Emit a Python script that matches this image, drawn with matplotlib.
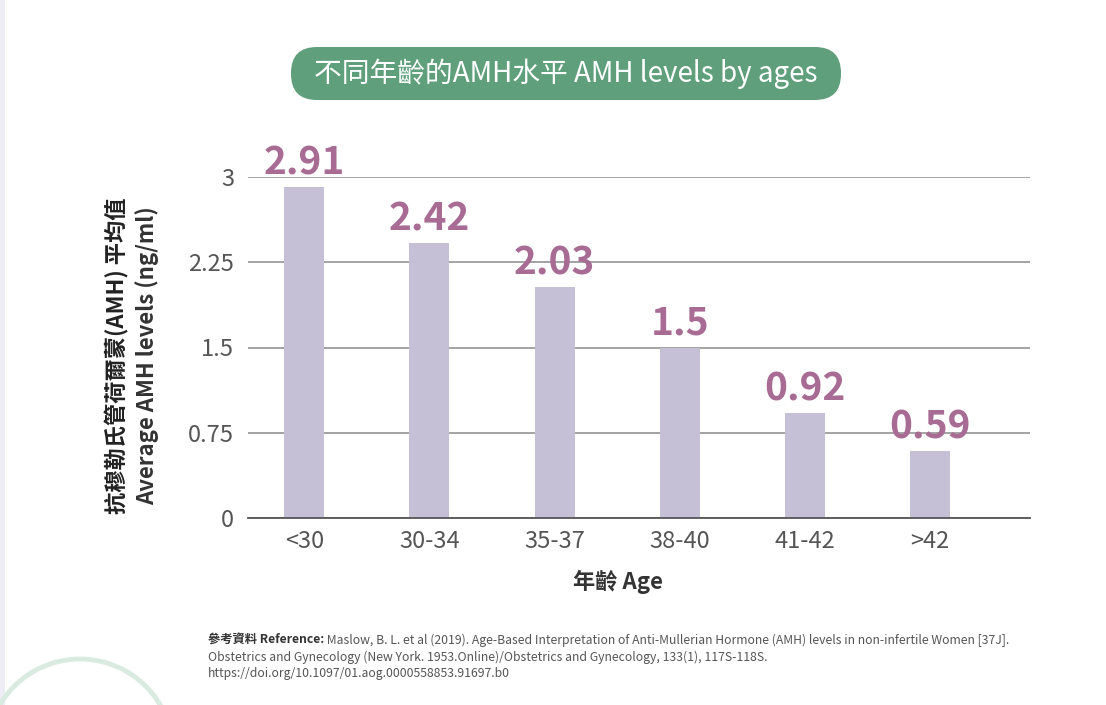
import matplotlib
matplotlib.use('Agg')
import matplotlib.pyplot as plt
from matplotlib.patches import FancyBboxPatch, Circle

plt.rcParams['font.family'] = ['Noto Sans CJK TC', 'DejaVu Sans']

# data
age_groups = ['<30', '30-34', '35-37', '38-40', '41-42', '>42']
amh_means = [2.91, 2.42, 2.03, 1.5, 0.92, 0.59]
y_ticks = [0, 0.75, 1.5, 2.25, 3]
y_tick_labels = ['0', '0.75', '1.5', '2.25', '3']

title = '不同年齡的AMH水平 AMH levels by ages'
ylabel_zh = '抗穆勒氏管荷爾蒙(AMH) 平均值'
ylabel_en = 'Average AMH levels (ng/ml)'
xlabel = '年齡 Age'
ref_bold = '參考資料 Reference:'
ref_lines = [
    ' Maslow, B. L. et al (2019). Age-Based Interpretation of Anti-Mullerian Hormone (AMH) levels in non-infertile Women [37J].',
    'Obstetrics and Gynecology (New York. 1953.Online)/Obstetrics and Gynecology, 133(1), 117S-118S.',
    'https://doi.org/10.1097/01.aog.0000558853.91697.b0',
]

W, H = 1106, 705
fig = plt.figure(figsize=(W / 100, H / 100), dpi=100)
fig.patch.set_facecolor('white')

# background layer in pixel coordinates
bg = fig.add_axes([0, 0, 1, 1], zorder=0)
bg.set_xlim(0, W)
bg.set_ylim(H, 0)
bg.axis('off')
bg.add_patch(plt.Rectangle((0, 0), 5, H, color='#eeedf5', lw=0))
bg.add_patch(Circle((80, 752), 93, fill=False, ec='#d9ebe0', lw=3.5))
bg.add_patch(FancyBboxPatch((291, 47), 550, 53, boxstyle='round,pad=0,rounding_size=26',
                            fc='#5f9f7b', ec='none'))
bg.text(566, 74, title, color='white', fontsize=20, ha='center', va='center')

# main chart
ax = fig.add_axes([248 / W, 1 - 518 / H, 782 / W, 341 / H], zorder=1)
ax.patch.set_alpha(0)
x = range(len(age_groups))
ax.bar(x, amh_means, width=0.32, color='#c6c0d6', zorder=2)
for xi, v in zip(x, amh_means):
    ax.text(xi, v + 0.04, f'{v:g}', ha='center', va='bottom', color='#a86b93',
            fontsize=28, fontweight='heavy', clip_on=False)

ax.set_xlim(-0.45, 5.8)
ax.set_ylim(0, 3)
ax.set_yticks(y_ticks)
ax.set_yticklabels(y_tick_labels)
ax.set_xticks(list(x))
ax.set_xticklabels(age_groups)
ax.grid(axis='y', color='#8a8a8a', lw=1.1, zorder=1)
ax.set_axisbelow(True)
for s in ['top', 'right', 'left']:
    ax.spines[s].set_visible(False)
ax.spines['bottom'].set_color('#555555')
ax.spines['bottom'].set_linewidth(1.3)
ax.spines['bottom'].set_zorder(3)
ax.tick_params(length=0, labelsize=17, colors='#555555')
ax.tick_params(axis='x', pad=9)
ax.tick_params(axis='y', pad=10)

bg.text(618, 582, xlabel, fontsize=16, fontweight='bold', color='#333333',
        ha='center', va='center')
bg.text(117, 356, ylabel_zh, fontsize=16, fontweight='bold', color='#222222',
        ha='center', va='center', rotation=90)
bg.text(147, 356, ylabel_en, fontsize=16, fontweight='bold', color='#333333',
        ha='center', va='center', rotation=90)

# reference
t = bg.text(208, 640, ref_bold, fontsize=8.8, fontweight='bold', color='#333333',
            ha='left', va='center')
fig.canvas.draw()
x_end = t.get_window_extent().x1
bg.annotate(ref_lines[0], xy=(x_end, H - 640), xycoords='figure pixels', fontsize=8.8,
            color='#555555', ha='left', va='center')
for i, line in enumerate(ref_lines[1:]):
    bg.text(208, 657 + 16.5 * i, line, fontsize=8.8, color='#555555', ha='left', va='center')

fig.savefig('out.png', dpi=100)
